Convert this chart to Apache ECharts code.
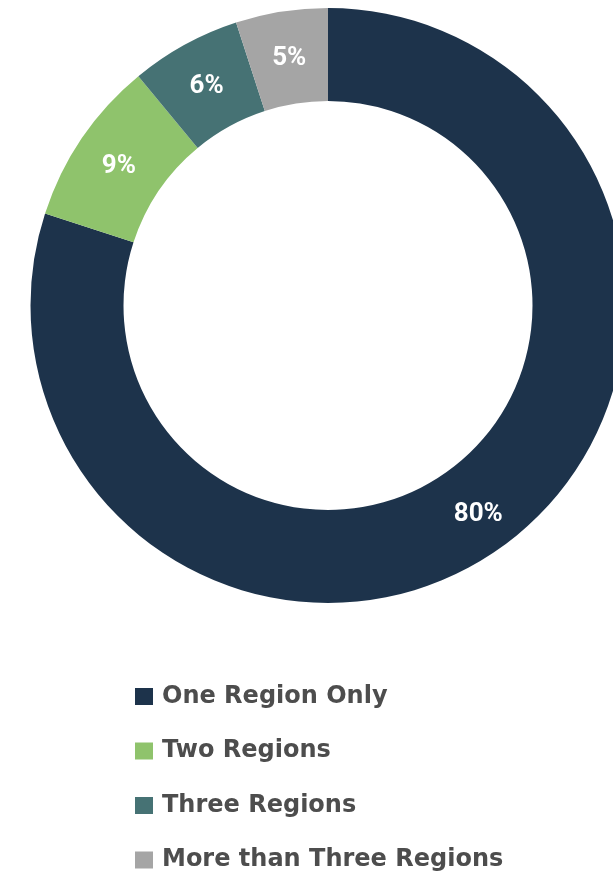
<!DOCTYPE html>
<html>
<head>
<meta charset="utf-8">
<script src="https://cdn.jsdelivr.net/npm/echarts@6/dist/echarts.min.js"></script>
<style>
  html, body { margin: 0; padding: 0; background: #ffffff; }
  #chart { width: 613px; height: 871px; }
</style>
</head>
<body>
<div id="chart"></div>
<script>
// Share of respondents by number of regions served
const categories = ['One Region Only', 'Two Regions', 'Three Regions', 'More than Three Regions'];
const shares = [80, 9, 6, 5];
const colors = ['#1d334b', '#8fc36c', '#467274', '#a5a5a5'];

const chart = echarts.init(document.getElementById('chart'), null, { renderer: 'canvas' });

chart.setOption({
  animation: false,
  color: colors,
  legend: {
    orient: 'vertical',
    left: 130,
    top: 679.5,
    height: 190,
    icon: 'rect',
    itemWidth: 18,
    itemHeight: 17,
    itemGap: 30.5,
    selectedMode: false,
    data: categories,
    textStyle: {
      fontFamily: 'DejaVu Sans',
      fontWeight: 'bold',
      fontSize: 24,
      lineHeight: 24,
      color: '#4d4d4d',
      padding: [0, 0, 0, 4]
    }
  },
  series: [{
    type: 'pie',
    center: [328, 305.5],
    radius: [204.5, 297.5],
    startAngle: 90,
    clockwise: true,
    silent: true,
    data: categories.map((name, i) => ({ name, value: shares[i] })),
    label: {
      show: true,
      position: 'inside',
      formatter: p => p.value + '%',
      color: '#ffffff',
      fontFamily: 'Roboto',
      fontWeight: 'bold',
      fontSize: 26,
      offset: [1, 4]
    },
    labelLine: { show: false },
    itemStyle: { borderWidth: 0 }
  }]
});
</script>
</body>
</html>
